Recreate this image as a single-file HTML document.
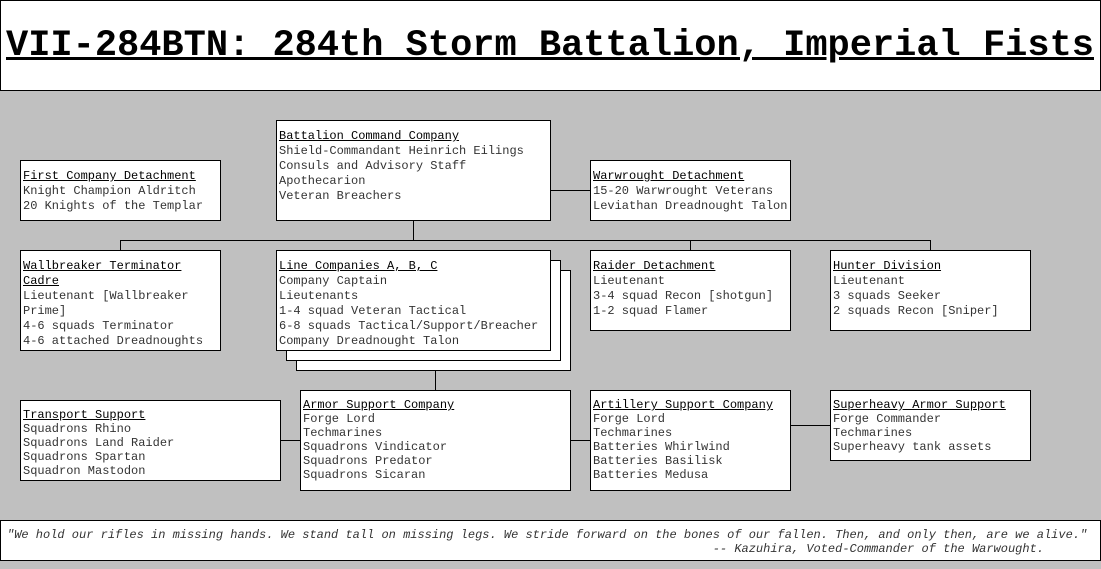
<!DOCTYPE html>
<html><head><meta charset="utf-8"><style>
*{margin:0;padding:0;box-sizing:border-box}
body{width:1101px;height:569px;background:#c0c0c0;position:relative;overflow:hidden;font-family:"Liberation Mono","Courier New",monospace;font-size:12px;color:#333}
.b{position:absolute;background:#fff;border:1px solid #000;padding:8px 0 0 2px;line-height:15px;white-space:pre}
.s{line-height:14px;padding-top:7px}
.b u{color:#000}
.l{position:absolute;background:#000}
#t{position:absolute;left:0;top:0;width:1101px;height:91px;background:#fff;border:1px solid #000;font-size:37px;font-weight:bold;text-decoration:underline;line-height:91px;padding-left:5px;color:#000;white-space:nowrap}
#q{position:absolute;left:0;top:520px;width:1101px;height:41px;background:#fff;border:1px solid #000;font-style:italic;line-height:14px;padding:7px 0 0 6px;white-space:pre}
</style></head><body>
<div id="t">VII-284BTN: 284th Storm Battalion, Imperial Fists</div>

<div class="l" style="left:413px;top:220px;width:1px;height:20px"></div>
<div class="l" style="left:120px;top:240px;width:811px;height:1px"></div>
<div class="l" style="left:120px;top:240px;width:1px;height:10px"></div>
<div class="l" style="left:690px;top:240px;width:1px;height:10px"></div>
<div class="l" style="left:930px;top:240px;width:1px;height:10px"></div>
<div class="l" style="left:550px;top:190px;width:40px;height:1px"></div>
<div class="l" style="left:435px;top:370px;width:1px;height:20px"></div>
<div class="l" style="left:280px;top:440px;width:20px;height:1px"></div>
<div class="l" style="left:570px;top:440px;width:20px;height:1px"></div>
<div class="l" style="left:790px;top:425px;width:40px;height:1px"></div>

<div class="b" style="left:276px;top:120px;width:275px;height:101px"><u>Battalion Command Company</u>
Shield-Commandant Heinrich Eilings
Consuls and Advisory Staff
Apothecarion
Veteran Breachers</div>
<div class="b" style="left:20px;top:160px;width:201px;height:61px"><u>First Company Detachment</u>
Knight Champion Aldritch
20 Knights of the Templar</div>
<div class="b" style="left:590px;top:160px;width:201px;height:61px"><u>Warwrought Detachment</u>
15-20 Warwrought Veterans
Leviathan Dreadnought Talon</div>
<div class="b" style="left:20px;top:250px;width:201px;height:101px"><u>Wallbreaker Terminator</u>
<u>Cadre</u>
Lieutenant [Wallbreaker
Prime]
4-6 squads Terminator
4-6 attached Dreadnoughts</div>
<div class="b" style="left:296px;top:270px;width:275px;height:101px"></div>
<div class="b" style="left:286px;top:260px;width:275px;height:101px"></div>
<div class="b" style="left:276px;top:250px;width:275px;height:101px"><u>Line Companies A, B, C</u>
Company Captain
Lieutenants
1-4 squad Veteran Tactical
6-8 squads Tactical/Support/Breacher
Company Dreadnought Talon</div>
<div class="b" style="left:590px;top:250px;width:201px;height:81px"><u>Raider Detachment</u>
Lieutenant
3-4 squad Recon [shotgun]
1-2 squad Flamer</div>
<div class="b" style="left:830px;top:250px;width:201px;height:81px"><u>Hunter Division</u>
Lieutenant
3 squads Seeker
2 squads Recon [Sniper]</div>
<div class="b s" style="left:20px;top:400px;width:261px;height:81px"><u>Transport Support</u>
Squadrons Rhino
Squadrons Land Raider
Squadrons Spartan
Squadron Mastodon</div>
<div class="b s" style="left:300px;top:390px;width:271px;height:101px"><u>Armor Support Company</u>
Forge Lord
Techmarines
Squadrons Vindicator
Squadrons Predator
Squadrons Sicaran</div>
<div class="b s" style="left:590px;top:390px;width:201px;height:101px"><u>Artillery Support Company</u>
Forge Lord
Techmarines
Batteries Whirlwind
Batteries Basilisk
Batteries Medusa</div>
<div class="b s" style="left:830px;top:390px;width:201px;height:71px"><u>Superheavy Armor Support</u>
Forge Commander
Techmarines
Superheavy tank assets</div>

<div id="q">"We hold our rifles in missing hands. We stand tall on missing legs. We stride forward on the bones of our fallen. Then, and only then, are we alive."
                                                                                                  -- Kazuhira, Voted-Commander of the Warwought.</div>
</body></html>
